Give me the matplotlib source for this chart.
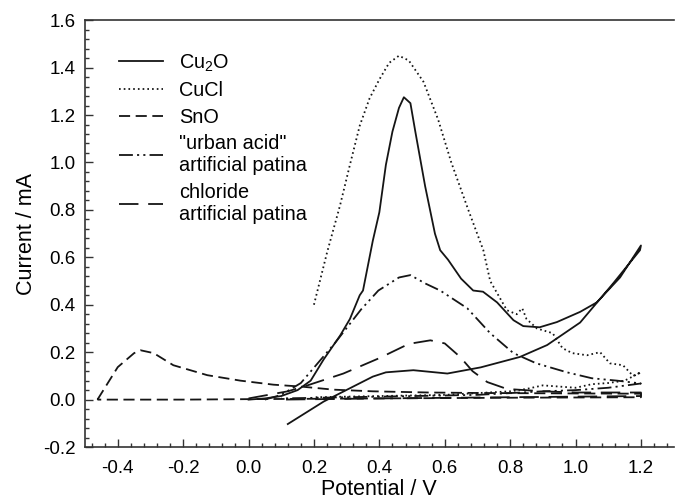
import matplotlib
matplotlib.use("Agg")
import matplotlib.pyplot as plt
from matplotlib.ticker import MultipleLocator, FuncFormatter

plt.rcParams['font.family'] = ['Liberation Sans', 'DejaVu Sans']
plt.rcParams['mathtext.fontset'] = 'custom'
plt.rcParams['mathtext.rm'] = 'Liberation Sans'
plt.rcParams['mathtext.it'] = 'Liberation Sans'
plt.rcParams['lines.scale_dashes'] = False

# ---- data ----
cu2o_x = [0.00, 0.05, 0.10, 0.15, 0.19, 0.23, 0.28, 0.31, 0.34, 0.35, 0.38, 0.40, 0.42, 0.44,
          0.46, 0.475, 0.495, 0.51, 0.54, 0.57, 0.586, 0.61, 0.65, 0.687, 0.717, 0.76, 0.81,
          0.84, 0.89, 0.943, 1.014, 1.065, 1.136, 1.20,
          1.197, 1.115, 1.014, 0.913, 0.83, 0.71, 0.608, 0.504, 0.42, 0.38, 0.29, 0.23, 0.12]
cu2o_y = [0.000, 0.005, 0.015, 0.040, 0.080, 0.170, 0.270, 0.340, 0.440, 0.460, 0.670, 0.790,
          0.990, 1.130, 1.230, 1.275, 1.250, 1.130, 0.900, 0.700, 0.630, 0.590, 0.510, 0.460,
          0.455, 0.410, 0.335, 0.310, 0.305, 0.327, 0.370, 0.410, 0.515, 0.650,
          0.630, 0.490, 0.325, 0.230, 0.180, 0.136, 0.110, 0.124, 0.115, 0.097, 0.034, -0.008, -0.103]

cucl_x = [0.20, 0.24, 0.28, 0.31, 0.34, 0.37, 0.40, 0.43, 0.46, 0.49, 0.535, 0.58, 0.62, 0.672,
          0.718, 0.739, 0.79, 0.82, 0.837, 0.85, 0.882, 0.93, 0.96, 0.99, 1.035, 1.075, 1.105,
          1.145, 1.176, 1.20,
          1.15, 1.10, 1.05, 1.00, 0.95, 0.90, 0.85, 0.80, 0.60, 0.40, 0.20]
cucl_y = [0.40, 0.62, 0.82, 0.99, 1.155, 1.27, 1.35, 1.42, 1.45, 1.43, 1.34, 1.18, 1.00, 0.80,
          0.63, 0.50, 0.377, 0.36, 0.385, 0.34, 0.30, 0.28, 0.217, 0.196, 0.187, 0.200, 0.153,
          0.145, 0.100, 0.115,
          0.080, 0.070, 0.065, 0.050, 0.055, 0.060, 0.045, 0.035, 0.020, 0.015, 0.010]

sno_x = [-0.462, -0.40, -0.35, -0.33, -0.29, -0.23, -0.126, -0.025, 0.076, 0.16, 0.26, 0.38,
         0.55, 0.70, 0.85, 1.00, 1.20,
         1.20, 0.80, 0.40, 0.00, -0.20, -0.462]
sno_y = [0.000, 0.137, 0.196, 0.208, 0.196, 0.145, 0.103, 0.080, 0.063, 0.055, 0.042, 0.035,
         0.030, 0.028, 0.027, 0.026, 0.025,
         0.010, 0.008, 0.005, 0.002, 0.000, 0.000]

urban_x = [0.05, 0.10, 0.16, 0.265, 0.344, 0.397, 0.46, 0.495, 0.54, 0.586, 0.669, 0.739, 0.81,
           0.88, 0.974, 1.05, 1.127, 1.176, 1.20,
           1.10, 1.00, 0.90, 0.70, 0.50, 0.30, 0.10]
urban_y = [0.000, 0.020, 0.070, 0.240, 0.380, 0.460, 0.515, 0.525, 0.490, 0.460, 0.385, 0.280,
           0.196, 0.153, 0.115, 0.090, 0.080, 0.072, 0.068,
           0.050, 0.040, 0.035, 0.020, 0.015, 0.010, 0.005]

chlor_x = [0.00, 0.06, 0.12, 0.18, 0.29, 0.40, 0.49, 0.556, 0.60, 0.647, 0.685, 0.73, 0.79,
           0.90, 1.00, 1.20,
           1.20, 0.80, 0.40, 0.10]
chlor_y = [0.005, 0.020, 0.035, 0.060, 0.110, 0.175, 0.235, 0.250, 0.237, 0.180, 0.120, 0.074,
           0.045, 0.035, 0.030, 0.030,
           0.015, 0.010, 0.005, 0.000]

labels = ['Cu$_2$O', 'CuCl', 'SnO', '"urban acid"\nartificial patina', 'chloride\nartificial patina']
xticks = [-0.4, -0.2, 0.0, 0.2, 0.4, 0.6, 0.8, 1.0, 1.2]

# ---- figure ----
fig = plt.figure(figsize=(6.75, 5.04), dpi=100)
ax = fig.add_axes([0.126, 0.113, 0.872, 0.847])
col = '#151515'
lw = 1.3
ax.plot(cu2o_x, cu2o_y, color=col, lw=lw, ls='-', label=labels[0])
ax.plot(cucl_x, cucl_y, color=col, lw=lw, ls=(0, (1.2, 2.2)), label=labels[1])
ax.plot(sno_x, sno_y, color=col, lw=lw, ls=(0, (8, 4)), label=labels[2])
ax.plot(urban_x, urban_y, color=col, lw=lw, ls=(0, (10, 3, 1.5, 3, 1.5, 3)), label=labels[3])
ax.plot(chlor_x, chlor_y, color=col, lw=lw, ls=(0, (14, 7)), label=labels[4])

ax.set_xlim(-0.5, 1.3)
ax.set_ylim(-0.2, 1.6)
ax.set_xticks(xticks)
ax.xaxis.set_minor_locator(MultipleLocator(0.04))
ax.yaxis.set_major_locator(MultipleLocator(0.2))
ax.yaxis.set_minor_locator(MultipleLocator(0.04))
fmt = FuncFormatter(lambda v, p: ('%.1f' % v).replace('-0.0', '0.0'))
ax.xaxis.set_major_formatter(fmt)
ax.yaxis.set_major_formatter(fmt)
ax.tick_params(which='both', direction='in', labelsize=13.5, width=1.0, color='#333333')
ax.tick_params(which='major', length=5.5)
ax.tick_params(axis='x', which='major', pad=9)
ax.tick_params(axis='y', which='major', pad=7)
ax.tick_params(which='minor', length=3)
ax.spines['right'].set_visible(False)
for s in ax.spines.values():
    s.set_linewidth(1.2)
    s.set_color('#333333')

ax.set_xlabel('Potential / V', fontsize=15.5, labelpad=2)
ax.set_ylabel('Current / mA', fontsize=15.5, labelpad=4)

leg = ax.legend(loc='upper left', bbox_to_anchor=(0.03, 0.962), frameon=False, fontsize=14.3,
                handlelength=2.26, handletextpad=0.8, labelspacing=0.38, borderpad=0.3)

fig.savefig('out.png', dpi=100)
